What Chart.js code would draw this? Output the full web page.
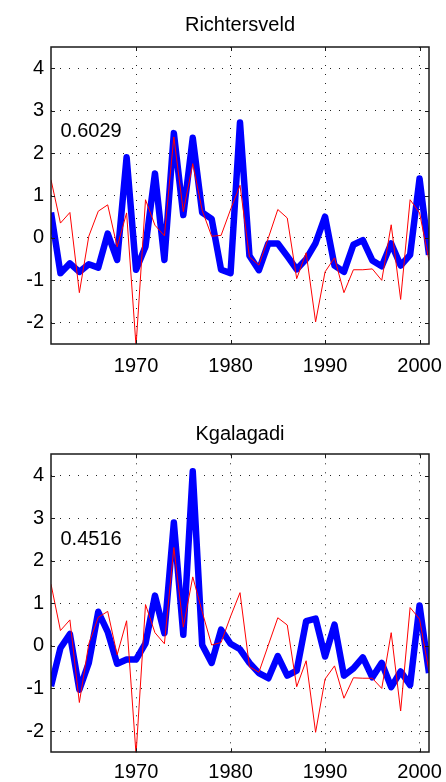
<!DOCTYPE html>
<html><head><meta charset="utf-8">
<script src="https://cdn.jsdelivr.net/npm/chart.js@4/dist/chart.umd.min.js"></script>
<style>
html,body{margin:0;padding:0;background:#fff;width:446px;height:782px;overflow:hidden}
canvas{position:absolute;left:0}
#c1{top:0px}
#c2{top:391px}
</style></head><body>
<canvas id="c1" width="446" height="391"></canvas>
<canvas id="c2" width="446" height="391"></canvas>
<script>
const years = [1961,1962,1963,1964,1965,1966,1967,1968,1969,1970,
  1971,1972,1973,1974,1975,1976,1977,1978,1979,1980,
  1981,1982,1983,1984,1985,1986,1987,1988,1989,1990,
  1991,1992,1993,1994,1995,1996,1997,1998,1999,2000,2001];

const richtersveldObserved = [0.6,-0.83,-0.6,-0.8,-0.62,-0.7,0.1,-0.52,1.9,-0.75,
  -0.2,1.52,-0.52,2.47,0.54,2.36,0.6,0.45,-0.75,-0.83,
  2.72,-0.42,-0.76,-0.13,-0.13,-0.43,-0.74,-0.5,-0.12,0.5,
  -0.65,-0.8,-0.16,-0.05,-0.53,-0.67,-0.13,-0.65,-0.4,1.4,-0.4];
const richtersveldModel = [1.37,0.35,0.6,-1.29,0.04,0.63,0.78,-0.21,0.59,-2.55,
  0.9,0.3,0.05,2.38,0.62,1.75,0.65,0.04,0.06,0.67,
  1.24,-0.45,-0.64,0.0,0.67,0.47,-0.96,-0.35,-1.98,-0.8,
  -0.47,-1.29,-0.75,-0.75,-0.73,-1.0,0.31,-1.45,0.9,0.59,-0.53];

const kgalagadiObserved = [-0.95,-0.05,0.28,-1.03,-0.4,0.8,0.33,-0.42,-0.32,-0.32,
  0.06,1.18,0.3,2.9,0.26,4.1,0.02,-0.4,0.38,0.05,
  -0.08,-0.4,-0.64,-0.76,-0.24,-0.7,-0.58,0.58,0.64,-0.25,
  0.5,-0.7,-0.53,-0.27,-0.74,-0.4,-0.97,-0.6,-0.92,0.95,-0.64];
const kgalagadiModel = [1.45,0.36,0.61,-1.33,0.05,0.67,0.81,-0.21,0.59,-2.55,
  0.97,0.31,0.05,2.31,0.44,1.62,0.8,0.02,0.08,0.69,
  1.25,-0.49,-0.62,0.02,0.66,0.49,-0.96,-0.35,-2.03,-0.78,
  -0.47,-1.23,-0.75,-0.76,-0.76,-1.0,0.31,-1.53,0.9,0.63,-0.6];

const xTickValues = [1970,1980,1990,2000];
const yTickValues = [-2,-1,0,1,2,3,4];
const titles = ['Richtersveld','Kgalagadi'];
const correlations = ['0.6029','0.4516'];

const FONT = "'Liberation Sans', Arial, Helvetica, sans-serif";
Chart.defaults.font.family = FONT;
Chart.defaults.font.size = 20;
Chart.defaults.color = '#000';

const boxPlugin = {
  id: 'matlabBox',
  afterDatasetsDraw(chart, args, opts) {
    const {ctx, chartArea: a, scales: {x, y}} = chart;
    ctx.save();
    ctx.strokeStyle = '#1a1a1a';
    ctx.lineWidth = 1;
    ctx.beginPath();
    xTickValues.forEach(v => {
      const px = Math.round(x.getPixelForValue(v)) + 0.5;
      ctx.moveTo(px, a.bottom); ctx.lineTo(px, a.bottom - 4);
      ctx.moveTo(px, a.top); ctx.lineTo(px, a.top + 4);
    });
    yTickValues.forEach(v => {
      const py = Math.round(y.getPixelForValue(v)) + 0.5;
      ctx.moveTo(a.left, py); ctx.lineTo(a.left + 4, py);
      ctx.moveTo(a.right, py); ctx.lineTo(a.right - 4, py);
    });
    ctx.stroke();
    ctx.lineWidth = 1.5;
    ctx.strokeRect(Math.round(a.left), Math.round(a.top), Math.round(a.right - a.left), Math.round(a.bottom - a.top));
    ctx.fillStyle = '#000';
    ctx.font = '20px ' + FONT;
    ctx.textAlign = 'left';
    ctx.textBaseline = 'middle';
    ctx.fillText(opts.label, x.getPixelForValue(opts.lx), y.getPixelForValue(opts.ly));
    ctx.restore();
  }
};

function makeChart(id, title, observed, model, corr, titlePad, xHeight, xPad) {
  const obsPts = years.map((yr, i) => ({x: yr, y: observed[i]}));
  const modPts = years.map((yr, i) => ({x: yr, y: model[i]}));
  return new Chart(document.getElementById(id), {
    type: 'line',
    data: {
      datasets: [
        {data: modPts, borderColor: '#ff0000', borderWidth: 1, pointRadius: 0, tension: 0, clip: 0},
        {data: obsPts, borderColor: '#0000ff', borderWidth: 6.5, pointRadius: 0, tension: 0, clip: 0,
         borderJoinStyle: 'round', borderCapStyle: 'butt'}
      ]
    },
    options: {
      responsive: false,
      animation: false,
      devicePixelRatio: 1,
      events: [],
      layout: {padding: {left: 0, right: 17, top: 0, bottom: 0}},
      plugins: {
        legend: {display: false},
        tooltip: {enabled: false},
        title: {display: true, fullSize: false, text: title, color: '#000',
          font: {size: 20, weight: 'normal', family: FONT, lineHeight: 1.2},
          padding: titlePad},
        matlabBox: {label: corr, lx: 1962, ly: 2.5}
      },
      scales: {
        x: {
          type: 'linear', min: 1961, max: 2001,
          afterBuildTicks: s => { s.ticks = xTickValues.map(v => ({value: v})); },
          afterFit: s => { s.height = xHeight; s.paddingLeft = 0; s.paddingRight = 0; },
          ticks: {callback: v => String(v), padding: xPad, maxRotation: 0, autoSkip: false, font: {size: 20}},
          grid: {color: '#222', lineWidth: 1, drawTicks: false},
          border: {display: false, dash: [1, 8]}
        },
        y: {
          type: 'linear', min: -2.5, max: 4.5,
          afterBuildTicks: s => { s.ticks = yTickValues.map(v => ({value: v})); },
          afterFit: s => { s.width = 51; s.paddingTop = 0; s.paddingBottom = 0; },
          ticks: {callback: v => String(v), padding: 7, font: {size: 20}},
          grid: {color: '#222', lineWidth: 1, drawTicks: false},
          border: {display: false, dash: [1, 8]}
        }
      }
    },
    plugins: [boxPlugin]
  });
}

makeChart('c1', titles[0], richtersveldObserved, richtersveldModel, correlations[0], {top: 13.3, bottom: 9.7}, 47, 10);
makeChart('c2', titles[1], kgalagadiObserved, kgalagadiModel, correlations[1], {top: 31.4, bottom: 7.9}, 29.7, 8);
</script>
</body></html>
